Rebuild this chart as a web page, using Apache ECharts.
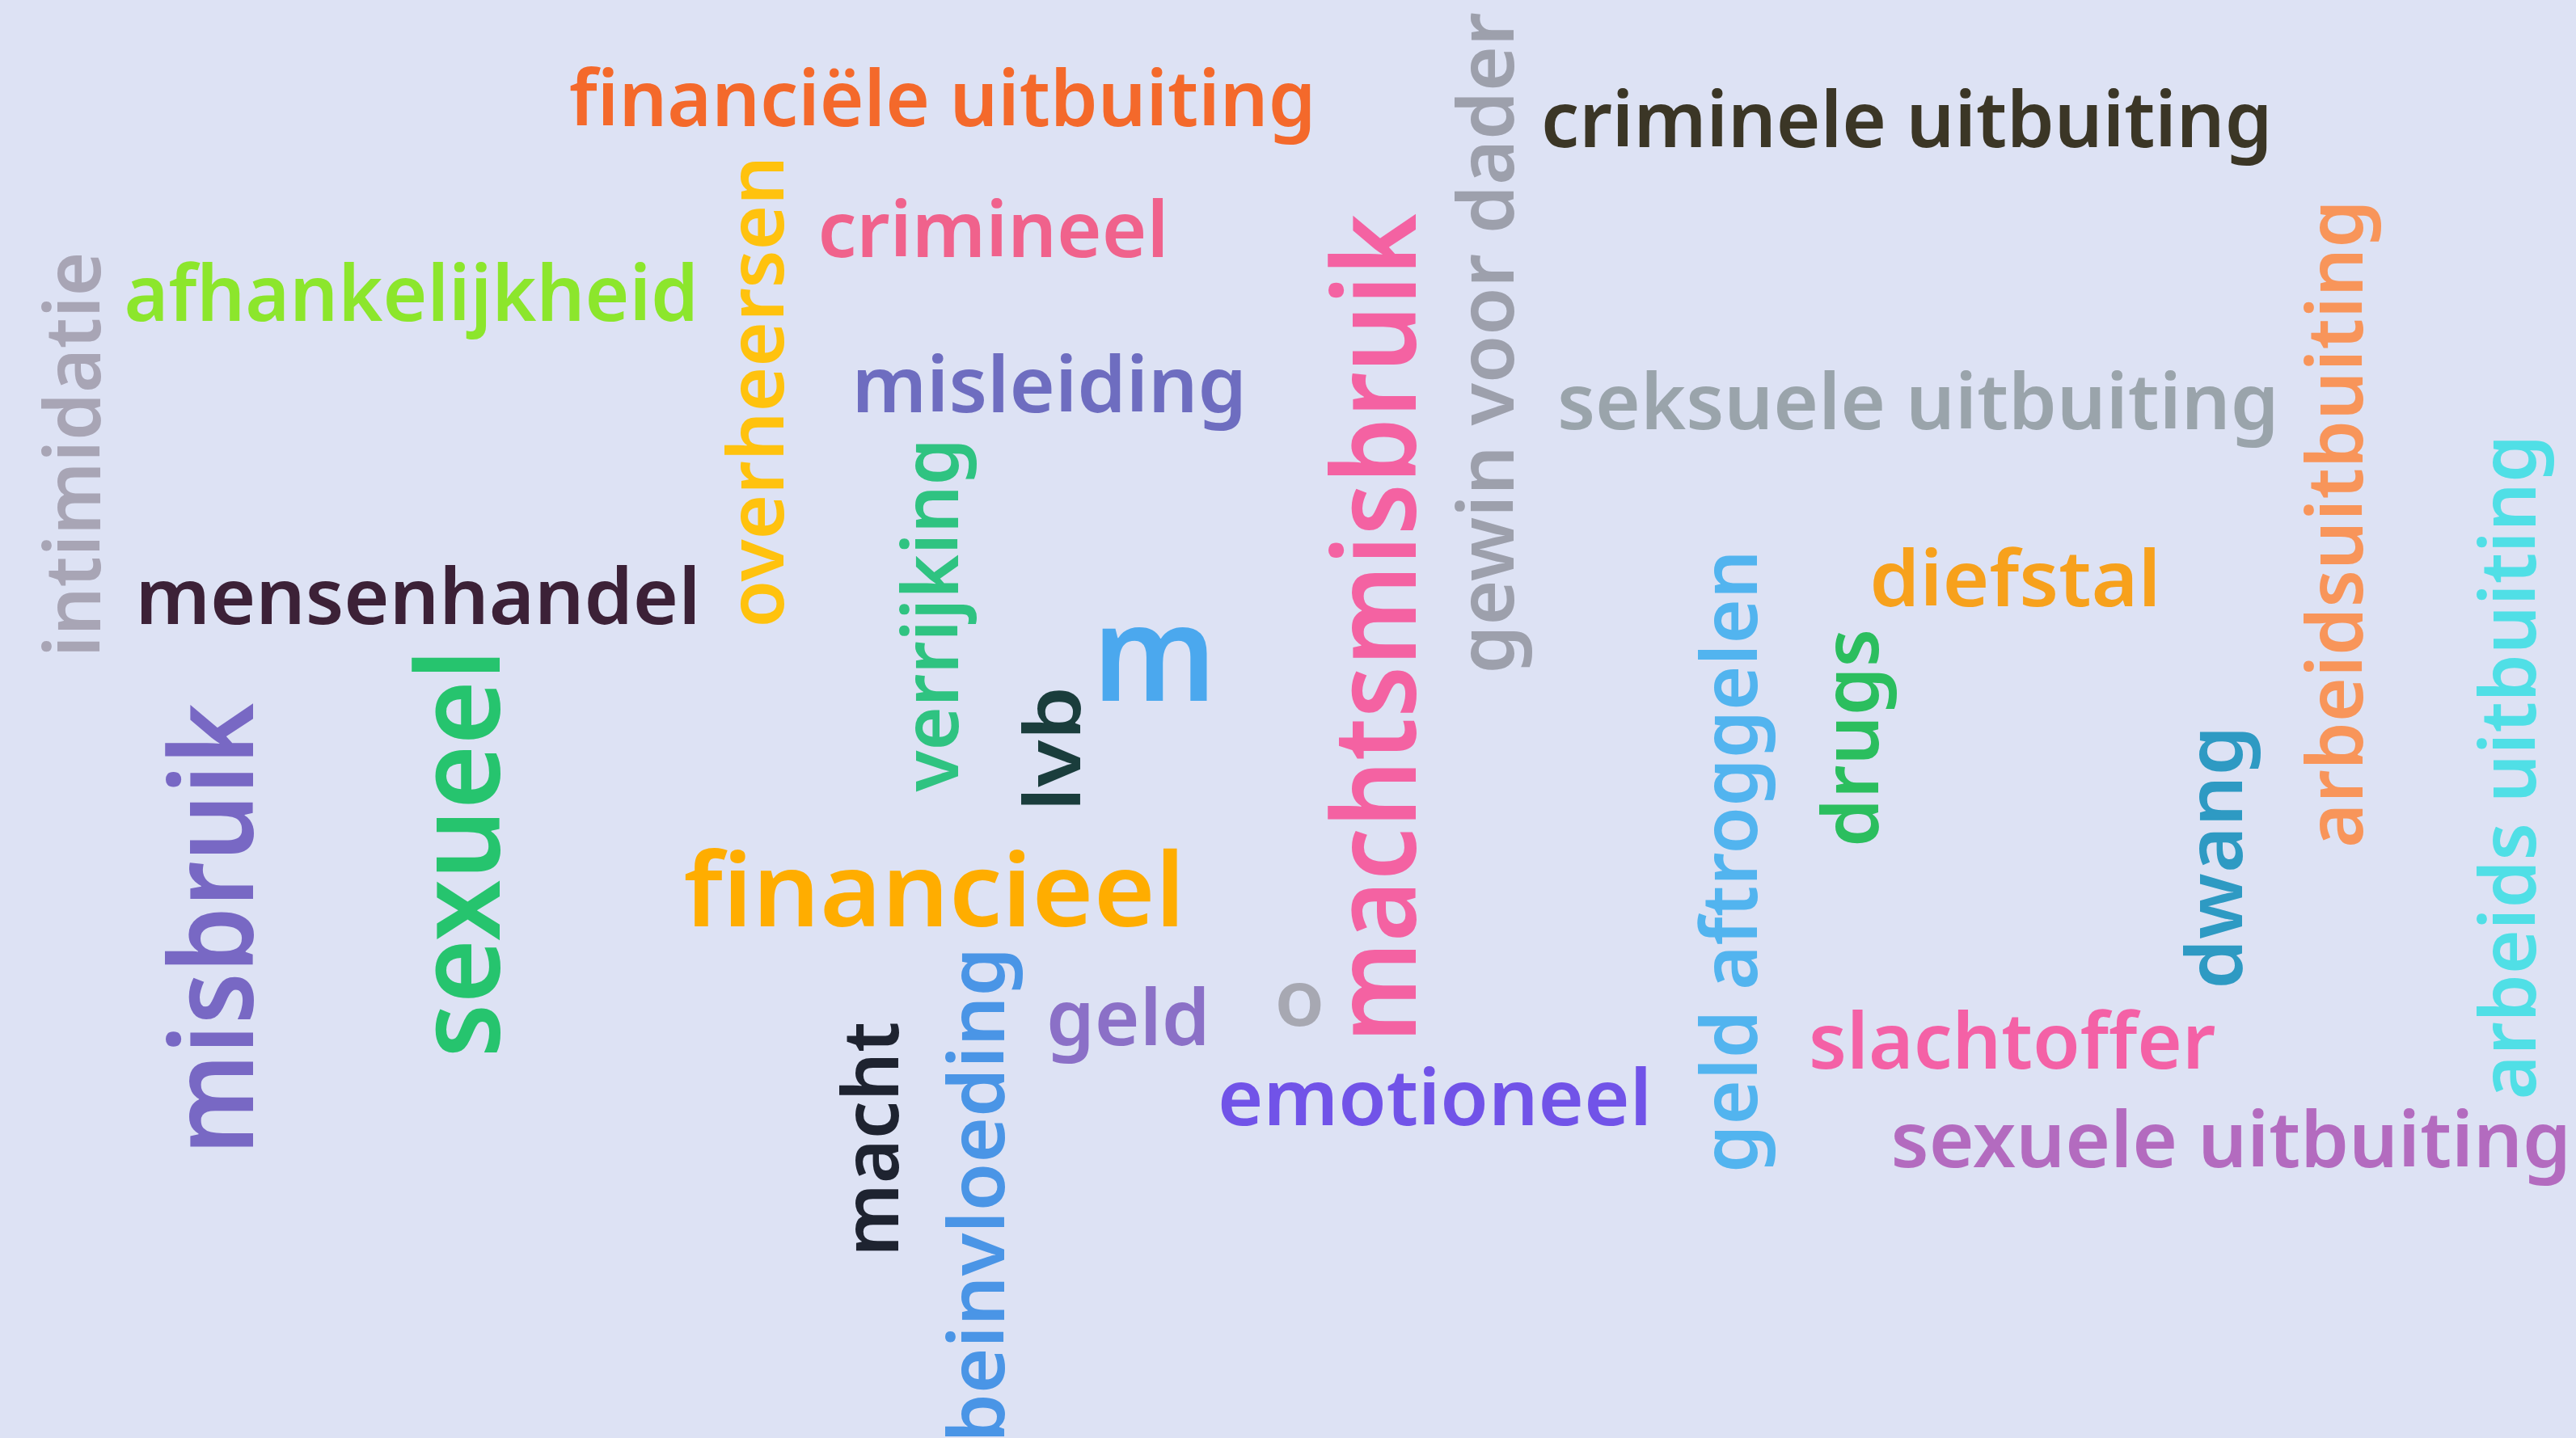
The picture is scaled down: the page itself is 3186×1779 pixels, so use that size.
<!DOCTYPE html>
<html>
<head>
<meta charset="utf-8">
<script src="https://cdn.jsdelivr.net/npm/echarts@6/dist/echarts.min.js"></script>
<style>
html,body{margin:0;padding:0;background:#dde2f4;}
#chart{width:3186px;height:1779px;}
</style>
</head>
<body>
<div id="chart"></div>
<script>
// ---- data ----
const words = [
  'financiële uitbuiting','criminele uitbuiting','crimineel','afhankelijkheid','intimidatie',
  'overheersen','misleiding','mensenhandel','verrijking','lvb',
  'm','machtsmisbruik','gewin voor dader','seksuele uitbuiting','diefstal',
  'arbeidsuitbuiting','arbeids uitbuiting','geld aftroggelen','drugs','dwang',
  'misbruik','sexueel','financieel','geld','o',
  'macht','beinvloeding','emotioneel','slachtoffer','sexuele uitbuiting'
];
const weights = [
  2,2,2,2,2,
  2,2,2,2,2,
  6,4.5,2,2,2,
  2,2,2,2,2,
  4.5,4.5,3.6,2,2,
  2,2,2,2,2
];

// ---- layout (word-cloud placement: ink-box centre, rotation, ink length) ----
const posX = [1163,2357,1227,507,88, 933,1298,517,1160,1300, 1428,1697,1847,2371,2491, 2897,3111,2147,2298,2748, 259,564,1152,1394,1607, 1075,1217,1773,2490,2758];
const posY = [130,157,282,371,561, 486,485,736,764,925, 821,772,423,506,713, 650,951,1067,913,1062, 1144,1058,1098,1268,1243, 1407,1478,1356,1285,1419];
const vertical = [0,0,0,0,1, 1,0,0,1,1, 0,1,1,0,0, 1,1,1,1,1, 1,1,0,0,0, 1,1,0,0,0];
const spans = [916,894,423,701,492, 573,475,685,431,142, 130,1016,813,882,349, 792,813,760,262,315, 549,490,609,192,53, 281,599,526,498,831];

// ---- style ----
const colors = [
  '#f4692b','#3b3626','#f0628c','#8ce62c','#a8a5b5',
  '#ffc20e','#6e6dc0','#3c2137','#2fc381','#1a3d3c',
  '#4ba8ee','#f462a2','#9da0ac','#9aa4ab','#f7a11c',
  '#f8955a','#50dfe6','#52b4ef','#2bbe5e','#2e9ac3',
  '#7868c4','#26c46e','#ffad00','#8b70c7','#a7a8b2',
  '#1e2330','#4a95e6','#7153e8','#f461a6','#b36bbf'
];
const baseSize = 95;
const fontFamily = 'Noto Sans';
const fontWeight = 600;

const measureCtx = document.createElement('canvas').getContext('2d');
function inkBox(text, fs) {
  measureCtx.font = fontWeight + ' ' + fs + 'px "' + fontFamily + '"';
  measureCtx.textAlign = 'center';
  measureCtx.textBaseline = 'middle';
  const m = measureCtx.measureText(text);
  return {L: m.actualBoundingBoxLeft, R: m.actualBoundingBoxRight,
          A: m.actualBoundingBoxAscent, D: m.actualBoundingBoxDescent};
}

const chart = echarts.init(document.getElementById('chart'));
const data = words.map((w, i) => [posX[i], posY[i], i]);

chart.setOption({
  backgroundColor: '#dde2f4',
  animation: false,
  grid: {left: 0, right: 0, top: 0, bottom: 0},
  xAxis: {type: 'value', min: 0, max: 3186, show: false},
  yAxis: {type: 'value', min: 0, max: 1779, inverse: true, show: false},
  series: [{
    type: 'custom',
    coordinateSystem: 'cartesian2d',
    data: data,
    renderItem: function (params, api) {
      const i = api.value(2);
      const p = api.coord([api.value(0), api.value(1)]);
      const fs = baseSize * Math.sqrt(weights[i] / 2);
      const b = inkBox(words[i], fs);
      const inkW = b.L + b.R;
      const s = spans[i] / inkW;
      const cx = (b.R - b.L) / 2 * s;
      const cy = (b.D - b.A) / 2;
      let ox, oy;
      if (vertical[i]) { ox = cy; oy = -cx; } else { ox = cx; oy = cy; }
      return {
        type: 'text',
        x: p[0] - ox,
        y: p[1] - oy,
        rotation: vertical[i] ? Math.PI / 2 : 0,
        scaleX: s,
        scaleY: 1,
        style: {
          text: words[i],
          fill: colors[i],
          fontSize: fs,
          fontFamily: fontFamily,
          fontWeight: fontWeight,
          align: 'center',
          verticalAlign: 'middle'
        }
      };
    }
  }]
});
</script>
</body>
</html>
